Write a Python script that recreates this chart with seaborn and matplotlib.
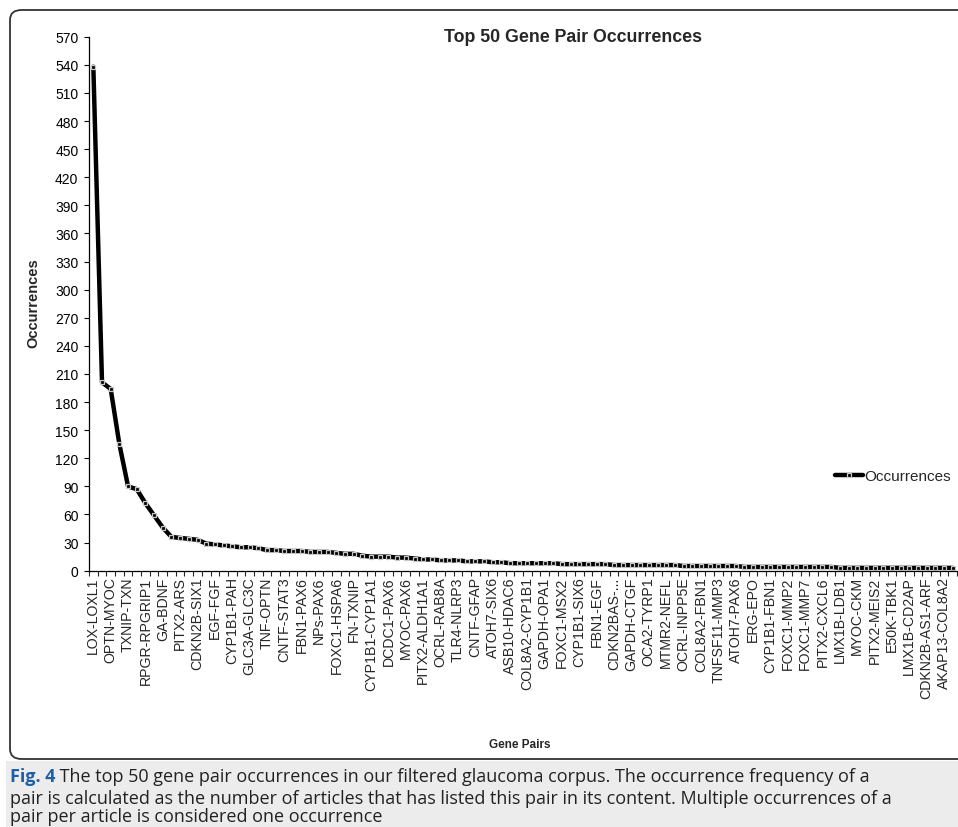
import numpy as np
import pandas as pd
import matplotlib.pyplot as plt
import seaborn as sns
from matplotlib.patches import FancyBboxPatch, Rectangle

# labels shown on the axis (every second category, as in the source chart)
pair_labels = [
    "LOX-LOXL1", "OPTN-MYOC", "TXNIP-TXN", "RPGR-RPGRIP1", "GA-BDNF",
    "PITX2-ARS", "CDKN2B-SIX1", "EGF-FGF", "CYP1B1-PAH", "GLC3A-GLC3C",
    "TNF-OPTN", "CNTF-STAT3", "FBN1-PAX6", "NPs-PAX6", "FOXC1-HSPA6",
    "FN-TXNIP", "CYP1B1-CYP1A1", "DCDC1-PAX6", "MYOC-PAX6", "PITX2-ALDH1A1",
    "OCRL-RAB8A", "TLR4-NLRP3", "CNTF-GFAP", "ATOH7-SIX6", "ASB10-HDAC6",
    "COL8A2-CYP1B1", "GAPDH-OPA1", "FOXC1-MSX2", "CYP1B1-SIX6", "FBN1-EGF",
    "CDKN2BAS-...", "GAPDH-CTGF", "OCA2-TYRP1", "MTMR2-NEFL", "OCRL-INPP5E",
    "COL8A2-FBN1", "TNFSF11-MMP3", "ATOH7-PAX6", "ERG-EPO", "CYP1B1-FBN1",
    "FOXC1-MMP2", "FOXC1-MMP7", "PITX2-CXCL6", "LMX1B-LDB1", "MYOC-CKM",
    "PITX2-MEIS2", "E50K-TBK1", "LMX1B-CD2AP", "CDKN2B-AS1-ARF", "AKAP13-COL8A2",
]

# occurrences per plotted category
occurrences = [
    538, 201, 194, 135, 90, 87, 72, 59, 46, 36,
    35, 34, 33, 29, 28, 27, 26, 25, 25, 24,
    22, 22, 21, 21, 21, 20, 20, 20, 19, 18,
    18, 16, 15, 15, 15, 14, 14, 13, 12, 12,
    11, 11, 11, 10, 10, 10, 9, 9, 8, 8,
    8, 8, 8, 8, 7, 7, 7, 7, 7, 7,
    6, 6, 6, 6, 6, 6, 6, 6, 5, 5,
    5, 5, 5, 5, 5, 4, 4, 4, 4, 4,
    4, 4, 4, 4, 4, 4, 3, 3, 3, 3,
    3, 3, 3, 3, 3, 3, 3, 3, 3, 3,
]

df = pd.DataFrame({"pos": np.arange(len(occurrences)), "Occurrences": occurrences})

sns.set_theme(style="ticks")
plt.rcParams["font.family"] = ["Liberation Sans", "DejaVu Sans"]

fig = plt.figure(figsize=(9.58, 8.28), dpi=100)

# outer frame and caption strip (behind everything)
frame = FancyBboxPatch((10 / 958, 1 - 760 / 828), 1.2, 749 / 828,
                       boxstyle="round,pad=0,rounding_size=0.012",
                       transform=fig.transFigure, facecolor="none",
                       edgecolor="#333333", linewidth=1.3, zorder=-10)
fig.patches.append(frame)
fig.patches.append(Rectangle((0.006, 0), 1.0, 1 - 762 / 828, transform=fig.transFigure,
                             facecolor="#ececec", edgecolor="none", zorder=-10))

ax = fig.add_axes([89 / 958, 1 - 571.7 / 828, (957 - 89) / 958, (571.7 - 37.7) / 828])
ax.set_facecolor("none")

sns.lineplot(data=df, x="pos", y="Occurrences", ax=ax, color="black", linewidth=3.2,
             marker="s", markersize=3.4, markerfacecolor="black",
             markeredgecolor="#c8c8c8", markeredgewidth=0.9, legend=False)

ax.set_xlim(-0.5, len(occurrences) - 0.5)
ax.set_ylim(0, 570)
ax.set_yticks(np.arange(0, 571, 30))
ax.tick_params(axis="y", labelsize=10, length=3.6, width=0.8, pad=4, colors="black")

# ticks between categories, labels on every second category
ax.set_xticks(np.arange(-0.5, len(occurrences), 1))
ax.set_xticklabels([])
ax.set_xticks(np.arange(0, len(occurrences), 2), minor=True)
ax.set_xticklabels(pair_labels, minor=True, rotation=90, fontsize=10.2)
ax.tick_params(axis="x", which="major", length=3.6, width=0.8)
ax.tick_params(axis="x", which="minor", length=0, pad=4)

ax.set_xlabel("")
ax.set_ylabel("")
sns.despine(ax=ax)
for side in ["left", "bottom"]:
    ax.spines[side].set_linewidth(0.9)
    ax.spines[side].set_color("black")

line = ax.get_lines()[0]
ax.legend([line], ["Occurrences"], loc="center left", bbox_to_anchor=(835 / 958, 1 - 477 / 828),
          bbox_transform=fig.transFigure, frameon=False, fontsize=11,
          handlelength=1.8, handletextpad=0.1, borderaxespad=0, borderpad=0)

fig.text(573 / 958, 1 - 37 / 828, "Top 50 Gene Pair Occurrences", ha="center", va="center",
         fontsize=12.8, fontweight="bold")
fig.text(33 / 958, 1 - 303 / 828, "Occurrences", rotation=90, ha="center", va="center",
         fontsize=10.5, fontweight="bold")
fig.text(520 / 958, 1 - 745 / 828, "Gene Pairs", ha="center", va="center",
         fontsize=8.5, fontweight="bold")

# caption
cap_font = ["Open Sans", "DejaVu Sans"]
cap_size = 13.0
t1 = fig.text(10 / 958, 1 - 777 / 828, "Fig. 4", ha="left", va="center", fontsize=cap_size,
              fontweight="bold", color="#1f5fa8", family=cap_font)
fig.add_artist(plt.Annotation(
    " The top 50 gene pair occurrences in our filtered glaucoma corpus. The occurrence frequency of a",
    xy=(1, 0.5), xycoords=t1, ha="left", va="center", fontsize=cap_size,
    color="#222222", family=cap_font))
fig.text(10 / 958, 1 - 808 / 828,
         "pair is calculated as the number of articles that has listed this pair in its content. Multiple occurrences of a\n"
         "pair per article is considered one occurrence",
         ha="left", va="center", fontsize=cap_size, color="#222222", family=cap_font,
         linespacing=1.02)

fig.savefig("out.png", dpi=100)
plt.close()
